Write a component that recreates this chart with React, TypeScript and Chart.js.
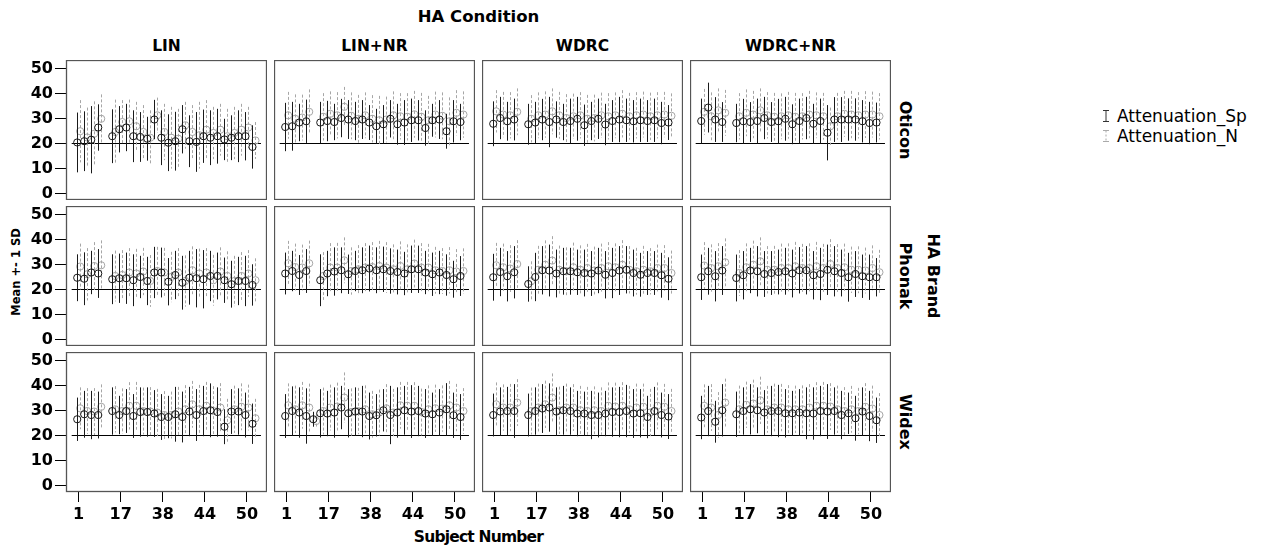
import React, { useEffect, useRef } from "react";
import { Chart, registerables } from "chart.js";
Chart.register(...registerables);

// ---------- categories / labels ----------
const subjects = ["1","2","3","4","5","16","17","18","20","22","25","30","38","39","40","41","42","43","44","45","46","47","48","49","50","51"];
const xTickIdx = [0, 6, 12, 18, 24];
const yTickValues = [0, 10, 20, 30, 40, 50];
const conditions = ["LIN", "LIN+NR", "WDRC", "WDRC+NR"];
const brands = ["Oticon", "Phonak", "Widex"];
const referenceValue = 20;
const seriesNames = ["Attenuation_Sp", "Attenuation_N"];

// ---------- Oticon ----------
const otiLinSpMean = [20.5,21,21.6,26.5,null,23,25.8,26.5,23,22.7,22,29.7,22.4,20.4,21,25.8,21,20.7,23,22.4,23,21.7,22.4,23,23,18.7];
const otiLinSpSd = [12,12,13.5,9.3,null,10.8,9.3,9.5,10.4,10,8.8,7.9,11,11.4,11.8,9.7,10.4,12,10.7,11,11,8.3,9,10.4,9.7,8.7];
const otiLinNMean = [25,22.5,24,30,null,24.7,28.7,29,27,24.7,22.4,31.4,24.7,22.4,22,27.4,24.7,23.4,25.6,24.3,25.6,23,24.3,25.6,26.5,21.3];
const otiLinNSd = [12.5,12,13,9.8,null,13,8.8,8.7,9.8,10.8,11,7.1,11.3,12.4,12,9.4,10.8,13.4,11.9,10.5,10.4,11,10.5,10.4,8.3,7.4];

const otiLinNrSpMean = [26.7,27,28.5,29,null,28.5,29.1,28.7,30.3,29.7,29.1,29.7,28.5,27,27.8,30,27.8,28.5,29.4,29.4,26.3,29.4,29.7,25,29,28.7];
const otiLinNrSpSd = [9.7,9.8,7.5,8.7,null,8.3,8.1,7.3,7.7,7.8,7.7,7.8,7,7,7.7,7.5,8.2,9,8.7,8.1,7.1,6.6,7.8,7,8.5,7.3];
const otiLinNrNMean = [31.4,30,30.5,32.8,null,30.8,32,31.4,34.8,31.2,30,31.4,30,29.4,29.7,31.4,31,30.8,31.8,30.8,29.4,31.7,31.2,29,32.4,31.7];
const otiLinNrNSd = [9.4,9.8,9.2,9,null,9.5,9,9.3,8,9.4,9.6,9.2,9.5,9.8,9.2,9.6,9.3,9.5,9.4,9.6,9.8,9.2,9.4,9.6,9.1,9.3];

const otiWdrcSpMean = [28,30.3,29,29.7,null,27.8,28.5,29.7,28.7,29.7,28.7,29.1,30,27.4,29.1,30,27.7,29.1,29.7,29.4,29,29.4,29.1,29.4,28.3,28.5];
const otiWdrcSpSd = [9,8.5,7.8,8.4,null,8.2,8.3,8.3,10.1,7.3,7.3,9,8.8,8.3,7.7,8.1,8.3,8.4,9.1,8.7,8.5,8.7,8.4,8.7,8.5,7];
const otiWdrcNMean = [33,31.7,31.4,32.8,null,30,31.4,31.7,33,31.4,30.3,31,31.4,30,30.3,31.4,31,31.4,32,31,31.4,31.7,31,31.4,31.7,31.2];
const otiWdrcNSd = [8.5,9.1,9.3,9.4,null,9.5,9.2,9.3,9.2,9.4,9.6,9.1,9.3,9.6,9.4,9.1,9.3,9.2,9.5,9.4,9.3,9.2,9.5,9.3,9.1,9];

const otiWdrcNrSpMean = [29.1,34.5,29.7,28.7,null,28.3,29,28.7,29.1,30.3,28.7,29,30,27.8,29.1,30.3,28,29.1,24.4,29.7,29.7,29.7,29.7,29,28.3,28.5];
const otiWdrcNrSpSd = [9,10,9,8,null,7.7,9,8,9,8.5,8,9,8.8,8,9,8.5,8,9,11.1,9,9,8.5,8.5,8.5,8.5,8];
const otiWdrcNrNMean = [32.8,31,33.4,32.4,null,31,32.4,31.7,33.4,31.4,30.8,31,31.4,30.8,31,31.7,31.4,31,27,31,32,31.7,31.4,31.7,31.7,31];
const otiWdrcNrNSd = [9.2,9.6,8.8,9.2,null,9.3,9.4,9.5,8.8,9.3,9.6,9.2,9.4,9.6,9.3,9.5,9.2,9.4,7.5,9.4,9.2,9.5,9.3,9.4,9.2,9.3];

// ---------- Phonak ----------
const phoLinSpMean = [24.8,24.4,26.9,26.5,null,24.2,24.6,24.6,23.8,25.1,23.5,26.9,26.9,23.2,25.9,22.8,24.8,24.6,24.2,25.5,25.5,23.8,22.2,23.5,23.5,21.9];
const phoLinSpSd = [9.4,10.6,8.7,9.8,null,10,9.9,10.3,10.4,8.5,9.7,10.3,10,9.5,9.7,10.8,10.8,11.7,11.7,10.1,9.4,9.1,9.4,9.7,10.1,8.3];
const phoLinNMean = [29.3,26.2,29.5,29.8,null,25.5,25.9,26.9,26.5,27.3,23.5,27.5,26.9,25.1,26.9,23.5,27.8,26.5,26.9,23.8,27.3,25.5,23.5,25.5,26.5,23.8];
const phoLinNSd = [9.2,10.5,9.6,10,null,10.2,10,9.8,9.9,9.5,10.4,9.7,9.9,10.1,9.8,10.3,9.6,10,9.8,10.2,9.7,9.9,10.1,9.6,9.4,8.8];

const phoLinNrSpMean = [26.5,27.5,25.9,27.5,null,23.8,26.5,27.3,27.8,26.2,27.5,27.8,28.5,27.8,28.2,27.5,27.1,26.5,28.2,28.2,26.9,26.2,26.9,25.9,24.2,25.5];
const phoLinNrSpSd = [8.4,8.1,8,8.8,null,10.4,9.1,9.7,9.2,7.9,8.1,9.2,9.2,9.2,9.1,9.1,9,8.7,9.5,9.5,8.7,8.7,8.7,8.3,7.4,8];
const phoLinNrNMean = [30.6,29.1,28.9,30.6,null,25.5,28.9,28.9,31.8,27.5,28.2,28.9,29.1,29.5,28.9,28.2,29.5,28.2,30.5,28.9,28.9,27.8,27.5,27.8,27.3,27.5];
const phoLinNrNSd = [9,9.4,9.2,9.1,null,9.6,9.8,9.9,9.2,9.5,9.7,9.8,10,10.1,10.2,10,9.9,10,9.6,9.8,9.5,9.4,9.2,9.3,9,9.1];

const phoWdrcSpMean = [25,27.1,25.4,27,null,22.3,25.1,27.8,27.7,26.5,27.4,27.4,27,26.7,26.5,27.7,26,26.7,27.7,28,26.7,26,26.7,26.7,25.8,24.4];
const phoWdrcSpSd = [9.4,9.7,10.1,10.5,null,7.1,9.7,9.7,10.4,9.6,9.4,9.4,9.1,9.4,9,9.1,9.5,10.1,9.8,9.5,9.4,8.8,8.8,8.8,9,8.6];
const phoWdrcNMean = [29.8,29,28.5,30.3,null,23.4,28,30,31.7,28,27.4,29,28,28.7,27.7,28.7,29.4,29,30,28,27.4,28,27.4,28.7,28.7,26.7];
const phoWdrcNSd = [9,9.5,9.4,9.6,null,8,9.6,9.8,9.8,9.7,9.6,9.9,9.8,9.7,9.6,9.8,9.7,9.6,9.9,9.5,9.4,9.6,9.3,9.4,9.2,9];

const phoWdrcNrSpMean = [25,27.4,25.4,27.7,null,24.7,25.8,27.7,27.4,26.3,26.7,27.1,27.4,26.5,27.8,27.8,25.8,26.3,28,27.4,26.7,25,26.3,25.4,25,25];
const phoWdrcNrSpSd = [9.1,9.4,10.1,9.8,null,9.4,9.7,9.1,10.1,9.2,8.8,9,9.4,9.6,9.3,9.7,9.7,10.5,10.1,10.1,9.4,9.8,9.2,8.7,9.1,7.7];
const phoWdrcNrNMean = [29.7,28.7,29.4,31,null,26.7,29,30,31.4,28,28,28.7,28.7,29.4,28.7,28.7,29.4,28.7,30.3,28.7,29,28,28,27.7,28.7,27];
const phoWdrcNrNSd = [9.4,9.5,9.3,9.6,null,9.2,9.6,9.7,9.6,9.5,9.6,9.8,9.9,9.8,9.7,9.9,9.8,9.7,10,9.6,9.5,9.3,9.4,9.2,9.1,9];

// ---------- Widex ----------
const widLinSpMean = [26.6,28.6,28.3,28.3,null,29.9,28.3,29.9,27.9,29.5,29.5,28.9,27.5,27.5,28.6,27.5,29.7,28.3,29.9,30.2,29.5,23.6,29.7,29.7,28.3,24.8];
const widLinSpSd = [8.7,9.4,9.7,9.4,null,9.5,7.7,8.8,8.8,9.9,9.9,9.4,9.2,8.5,11,10.2,9.9,10.4,10.1,10.8,9.9,7,9,9.3,9,8.1];
const widLinNMean = [31,29.9,29.7,31.6,null,30.6,29.9,32,32,29.9,29.7,29.3,28.3,28.3,29.7,30.6,32.6,30.6,32,29.9,31.3,26.2,30.6,31.6,31.3,27];
const widLinNSd = [8.4,9.2,9.4,9,null,9.3,9.1,9.5,9.6,9.4,9.8,9.5,9.6,9.4,9.9,9.7,9.4,9.8,9.6,10,9.8,8.6,9.5,9.4,9.2,7.8];

const widLinNrSpMean = [27.9,29.9,29.3,27.9,26.6,29,28.9,29.3,31.3,29,29.7,29.7,27.9,28.2,30.2,28.3,29.3,30.2,29.7,29.9,28.9,28.6,29.3,30.6,28.2,27.5];
const widLinNrSpSd = [8.8,9.9,10.1,11.1,3,9.7,9.1,10.1,8.7,9.7,9.7,10.3,9.4,8.5,8.5,11.7,10.1,9.8,10.6,10.1,9.8,8.7,9.4,10.5,9.1,9.2];
const widLinNrNMean = [32.2,30.6,32.2,31.3,25.9,29.9,31.3,31.7,35.3,29.5,29.9,30.6,28.6,29.3,31,29.3,32.2,32,32,29.5,30.6,31,30.9,32.2,31.3,29.9];
const widLinNrNSd = [8.8,9.5,9.4,9.6,3,9.4,9.2,9.6,10.1,9.5,9.3,9.6,9.4,9.2,9.7,9.5,9.4,9.6,9.5,9.4,9.6,9.5,9.3,9.8,9.5,9.2];

const widWdrcSpMean = [28.3,29.7,29.9,29.9,null,28.3,29.9,30.9,31.3,29.7,30.2,29.9,28.9,28.9,28.3,28.3,28.9,29.5,29.5,29.9,28.9,29,27.5,29.9,28.3,27.7];
const widWdrcSpSd = [8.6,9.7,9.7,10.8,null,8.6,9.5,9.8,9.7,9.7,9.8,9.5,9.1,8.8,9.7,9,9.1,9.9,10.1,10.5,9.8,9.7,8.5,9.7,9,9];
const widWdrcNMean = [32.6,31.3,31.3,33.3,null,29.9,31.3,32.6,35.3,30.2,31.3,31.3,30.2,29.9,30.2,29.9,32,31.7,32,30.6,31.3,31.6,29.3,32,31.6,29.9];
const widWdrcNSd = [8.8,9.3,9.5,9.4,null,9.4,9.6,9.5,9.7,9.5,9.6,9.4,9.8,9.7,9.6,9.5,9.4,9.6,9.5,9.4,9.6,9.3,9.5,9.4,9.2,8.9];

const widWdrcNrSpMean = [27.3,29.9,25.6,30.2,null,28.6,29.9,30.6,30.2,29.3,29.9,29.9,29,29,29.3,29,28.9,29.9,29.7,29.9,28.3,29,27,29.7,27.9,26.2];
const widWdrcNrSpSd = [8.7,10.1,8.4,10.5,null,9.1,9.5,10.1,9.2,9,10.1,10.5,9.7,9,9.4,10.4,10.5,10.1,11,9.5,9.7,8.3,9,9.7,10.1,9.1];
const widWdrcNrNMean = [32,31.3,28.3,33.3,null,30.6,32.4,32.9,34.2,30.6,31.3,31.3,30.6,30.6,30.6,31.3,32,32,31.7,30.6,29.9,30.6,29.9,31.6,30.9,28.3];
const widWdrcNrNSd = [8.6,9.4,9.2,9.6,null,9.5,9.3,9.6,9.5,9.4,9.6,9.5,9.7,9.5,9.6,9.4,9.5,9.6,9.4,9.5,9.6,9.4,9.3,9.5,9.2,8.8];

type Arr = (number | null)[];
interface PanelData { spM: Arr; spSd: Arr; nM: Arr; nSd: Arr; }

const grid: PanelData[][] = [
  [
    { spM: otiLinSpMean, spSd: otiLinSpSd, nM: otiLinNMean, nSd: otiLinNSd },
    { spM: otiLinNrSpMean, spSd: otiLinNrSpSd, nM: otiLinNrNMean, nSd: otiLinNrNSd },
    { spM: otiWdrcSpMean, spSd: otiWdrcSpSd, nM: otiWdrcNMean, nSd: otiWdrcNSd },
    { spM: otiWdrcNrSpMean, spSd: otiWdrcNrSpSd, nM: otiWdrcNrNMean, nSd: otiWdrcNrNSd },
  ],
  [
    { spM: phoLinSpMean, spSd: phoLinSpSd, nM: phoLinNMean, nSd: phoLinNSd },
    { spM: phoLinNrSpMean, spSd: phoLinNrSpSd, nM: phoLinNrNMean, nSd: phoLinNrNSd },
    { spM: phoWdrcSpMean, spSd: phoWdrcSpSd, nM: phoWdrcNMean, nSd: phoWdrcNSd },
    { spM: phoWdrcNrSpMean, spSd: phoWdrcNrSpSd, nM: phoWdrcNrNMean, nSd: phoWdrcNrNSd },
  ],
  [
    { spM: widLinSpMean, spSd: widLinSpSd, nM: widLinNMean, nSd: widLinNSd },
    { spM: widLinNrSpMean, spSd: widLinNrSpSd, nM: widLinNrNMean, nSd: widLinNrNSd },
    { spM: widWdrcSpMean, spSd: widWdrcSpSd, nM: widWdrcNMean, nSd: widWdrcNSd },
    { spM: widWdrcNrSpMean, spSd: widWdrcNrSpSd, nM: widWdrcNrNMean, nSd: widWdrcNrNSd },
  ],
];

// ---------- layout ----------
const PANEL_LEFT = 66;
const PANEL_TOP = 60;
const PANEL_W = 201;
const PANEL_H = 140;
const COL_STEP = 208;
const ROW_STEP = 146;
const Y_AXIS_W = 62;
const X_AXIS_H = 34;
const FONT = "'DejaVu Sans', sans-serif";
const SP_COLOR = "#1a1a1a";
const N_COLOR = "#a6a6a6";

function Panel({ row, col, d }: { row: number; col: number; d: PanelData }) {
  const ref = useRef<HTMLCanvasElement>(null);
  const showY = col === 0;
  const showX = row === 2;
  const w = PANEL_W + (showY ? Y_AXIS_W : 0);
  const h = PANEL_H + (showX ? X_AXIS_H : 0);
  const left = PANEL_LEFT + COL_STEP * col - (showY ? Y_AXIS_W : 0);
  const top = PANEL_TOP + ROW_STEP * row;

  useEffect(() => {
    if (!ref.current) return;
    const off = 0.21;
    const spPts = d.spM.map((m, i) => (m == null ? null : { x: i - off, y: m })).filter(Boolean) as any[];
    const nPts = d.nM.map((m, i) => (m == null ? null : { x: i + off, y: m })).filter(Boolean) as any[];
    const spIdx = d.spM.map((m, i) => (m == null ? -1 : i)).filter((i) => i >= 0);
    const nIdx = d.nM.map((m, i) => (m == null ? -1 : i)).filter((i) => i >= 0);

    const errPlugin = {
      id: "errbars",
      beforeDatasetsDraw(chart: any) {
        const { ctx, scales } = chart;
        const xs = scales.x, ys = scales.y;
        ctx.save();
        ctx.strokeStyle = "#000";
        ctx.lineWidth = 1;
        const yy = Math.round(ys.getPixelForValue(referenceValue)) - 0.5;
        ctx.beginPath();
        ctx.moveTo(xs.getPixelForValue(-1), yy);
        ctx.lineTo(xs.getPixelForValue(26), yy);
        ctx.stroke();
        ctx.restore();
      },
      beforeDatasetDraw(chart: any, args: any) {
        const { ctx, scales } = chart;
        const xs = scales.x, ys = scales.y;
        const isSp = args.index === 0;
        const means = isSp ? d.spM : d.nM;
        const sds = isSp ? d.spSd : d.nSd;
        const idxs = isSp ? spIdx : nIdx;
        ctx.save();
        ctx.lineWidth = 1;
        ctx.strokeStyle = isSp ? SP_COLOR : N_COLOR;
        ctx.setLineDash(isSp ? [] : [3, 2]);
        for (const i of idxs) {
          const m = means[i] as number;
          const s = (sds[i] as number) || 0;
          const px = Math.round(xs.getPixelForValue(i + (isSp ? -off : off))) + 0.5;
          const y1 = ys.getPixelForValue(m + s);
          const y2 = ys.getPixelForValue(m - s);
          ctx.beginPath();
          ctx.moveTo(px, y1);
          ctx.lineTo(px, y2);
          ctx.stroke();
        }
        ctx.restore();
      },
      afterDraw(chart: any) {
        const { ctx, chartArea } = chart;
        ctx.save();
        ctx.strokeStyle = "#555";
        ctx.lineWidth = 1.3;
        ctx.strokeRect(chartArea.left + 0.5, chartArea.top + 0.5, chartArea.right - chartArea.left - 1, chartArea.bottom - chartArea.top - 1);
        ctx.restore();
      },
    };

    const zeroPad = (s: any) => { s.paddingTop = 0; s.paddingBottom = 0; s.paddingLeft = 0; s.paddingRight = 0; };

    const chart = new Chart(ref.current, {
      type: "scatter",
      data: {
        datasets: [
          {
            label: seriesNames[0],
            data: spPts,
            pointRadius: 3.6,
            pointBorderWidth: 1,
            borderColor: SP_COLOR,
            backgroundColor: "rgba(0,0,0,0)",
            pointBorderColor: SP_COLOR,
            pointBackgroundColor: "rgba(0,0,0,0)",
          },
          {
            label: seriesNames[1],
            data: nPts,
            pointRadius: 3.6,
            pointBorderWidth: 1,
            borderColor: N_COLOR,
            backgroundColor: "rgba(0,0,0,0)",
            pointBorderColor: N_COLOR,
            pointBackgroundColor: "rgba(0,0,0,0)",
          },
        ],
      },
      options: {
        animation: false,
        responsive: false,
        maintainAspectRatio: false,
        layout: { padding: 0, autoPadding: false },
        plugins: { legend: { display: false }, tooltip: { enabled: false } },
        scales: {
          x: {
            type: "linear",
            position: "bottom",
            min: -1.81,
            max: 26.86,
            display: showX,
            afterFit: (s: any) => { s.height = showX ? X_AXIS_H : 0; zeroPad(s); },
            afterBuildTicks: (s: any) => { s.ticks = xTickIdx.map((v) => ({ value: v })); },
            grid: { display: true, drawOnChartArea: false, drawTicks: true, tickLength: 10, color: "#000", lineWidth: 1 },
            border: { display: false },
            ticks: {
              autoSkip: false,
              maxRotation: 0,
              padding: 3,
              color: "#000",
              font: { family: FONT, size: 16, weight: "bold" },
              callback: (v: any) => subjects[v] ?? "",
            },
          },
          y: {
            type: "linear",
            position: "left",
            min: -2.6,
            max: 53.6,
            display: showY,
            afterFit: (s: any) => { s.width = showY ? Y_AXIS_W : 0; zeroPad(s); },
            afterBuildTicks: (s: any) => { s.ticks = yTickValues.map((v) => ({ value: v })); },
            grid: { display: true, drawOnChartArea: false, drawTicks: true, tickLength: 11, color: "#000", lineWidth: 1 },
            border: { display: false },
            ticks: { padding: 2, color: "#000", font: { family: FONT, size: 16, weight: "bold" }, callback: (v: any) => String(v) },
          },
        },
      } as any,
      plugins: [errPlugin],
    });
    return () => chart.destroy();
  }, []);

  return (
    <canvas
      ref={ref}
      width={w}
      height={h}
      style={{ position: "absolute", left, top, width: w, height: h }}
    />
  );
}

function Label({ x, y, text, rot = 0, size = 15, weight = "bold", spacing = 0 }: { x: number; y: number; text: string; rot?: number; size?: number; weight?: string; spacing?: number }) {
  return (
    <div
      style={{
        position: "absolute",
        left: x,
        top: y,
        transform: `translate(-50%, -50%) rotate(${rot}deg)`,
        fontFamily: FONT,
        fontSize: size,
        fontWeight: weight as any,
        letterSpacing: spacing,
        color: "#000",
        whiteSpace: "nowrap",
        lineHeight: 1,
      }}
    >
      {text}
    </div>
  );
}

function LegendIcon({ dashed, color }: { dashed: boolean; color: string }) {
  return (
    <svg width={8} height={14} style={{ display: "block" }}>
      <line x1={1} y1={1.5} x2={7} y2={1.5} stroke={color} strokeWidth={1} />
      <line x1={1} y1={12.5} x2={7} y2={12.5} stroke={color} strokeWidth={1} />
      <line x1={4} y1={1.5} x2={4} y2={12.5} stroke={color} strokeWidth={1} strokeDasharray={dashed ? "2 2" : undefined} />
    </svg>
  );
}

export default function App() {
  const gridW = COL_STEP * 3 + PANEL_W;
  const centerX = PANEL_LEFT + gridW / 2;
  return (
    <div style={{ position: "absolute", left: 0, top: 0, width: 1263, height: 553, background: "#fff", overflow: "hidden" }}>
      <Label x={centerX} y={17} text="HA Condition" size={16.5} />
      {conditions.map((c, i) => (
        <Label key={c} x={PANEL_LEFT + COL_STEP * i + PANEL_W / 2} y={47} text={c} size={15.5} />
      ))}
      {brands.map((b, i) => (
        <Label key={b} x={905} y={PANEL_TOP + ROW_STEP * i + PANEL_H / 2} text={b} rot={90} size={16} />
      ))}
      <Label x={933} y={PANEL_TOP + ROW_STEP + PANEL_H / 2} text="HA Brand" rot={90} size={16} />
      <Label x={17} y={272} text="Mean +- 1 SD" rot={-90} size={11.5} />
      <Label x={centerX} y={538} text="Subject Number" size={15.5} spacing={-0.8} />
      {grid.map((rowArr, r) => rowArr.map((d, c) => <Panel key={`${r}-${c}`} row={r} col={c} d={d} />))}
      <div style={{ position: "absolute", left: 1102, top: 106, fontFamily: FONT, fontSize: 17, color: "#000" }}>
        {seriesNames.map((s, i) => (
          <div key={s} style={{ display: "flex", alignItems: "center", height: 20 }}>
            <LegendIcon dashed={i === 1} color={i === 0 ? "#333" : "#aaa"} />
            <span style={{ marginLeft: 7, lineHeight: 1 }}>{s}</span>
          </div>
        ))}
      </div>
    </div>
  );
}
